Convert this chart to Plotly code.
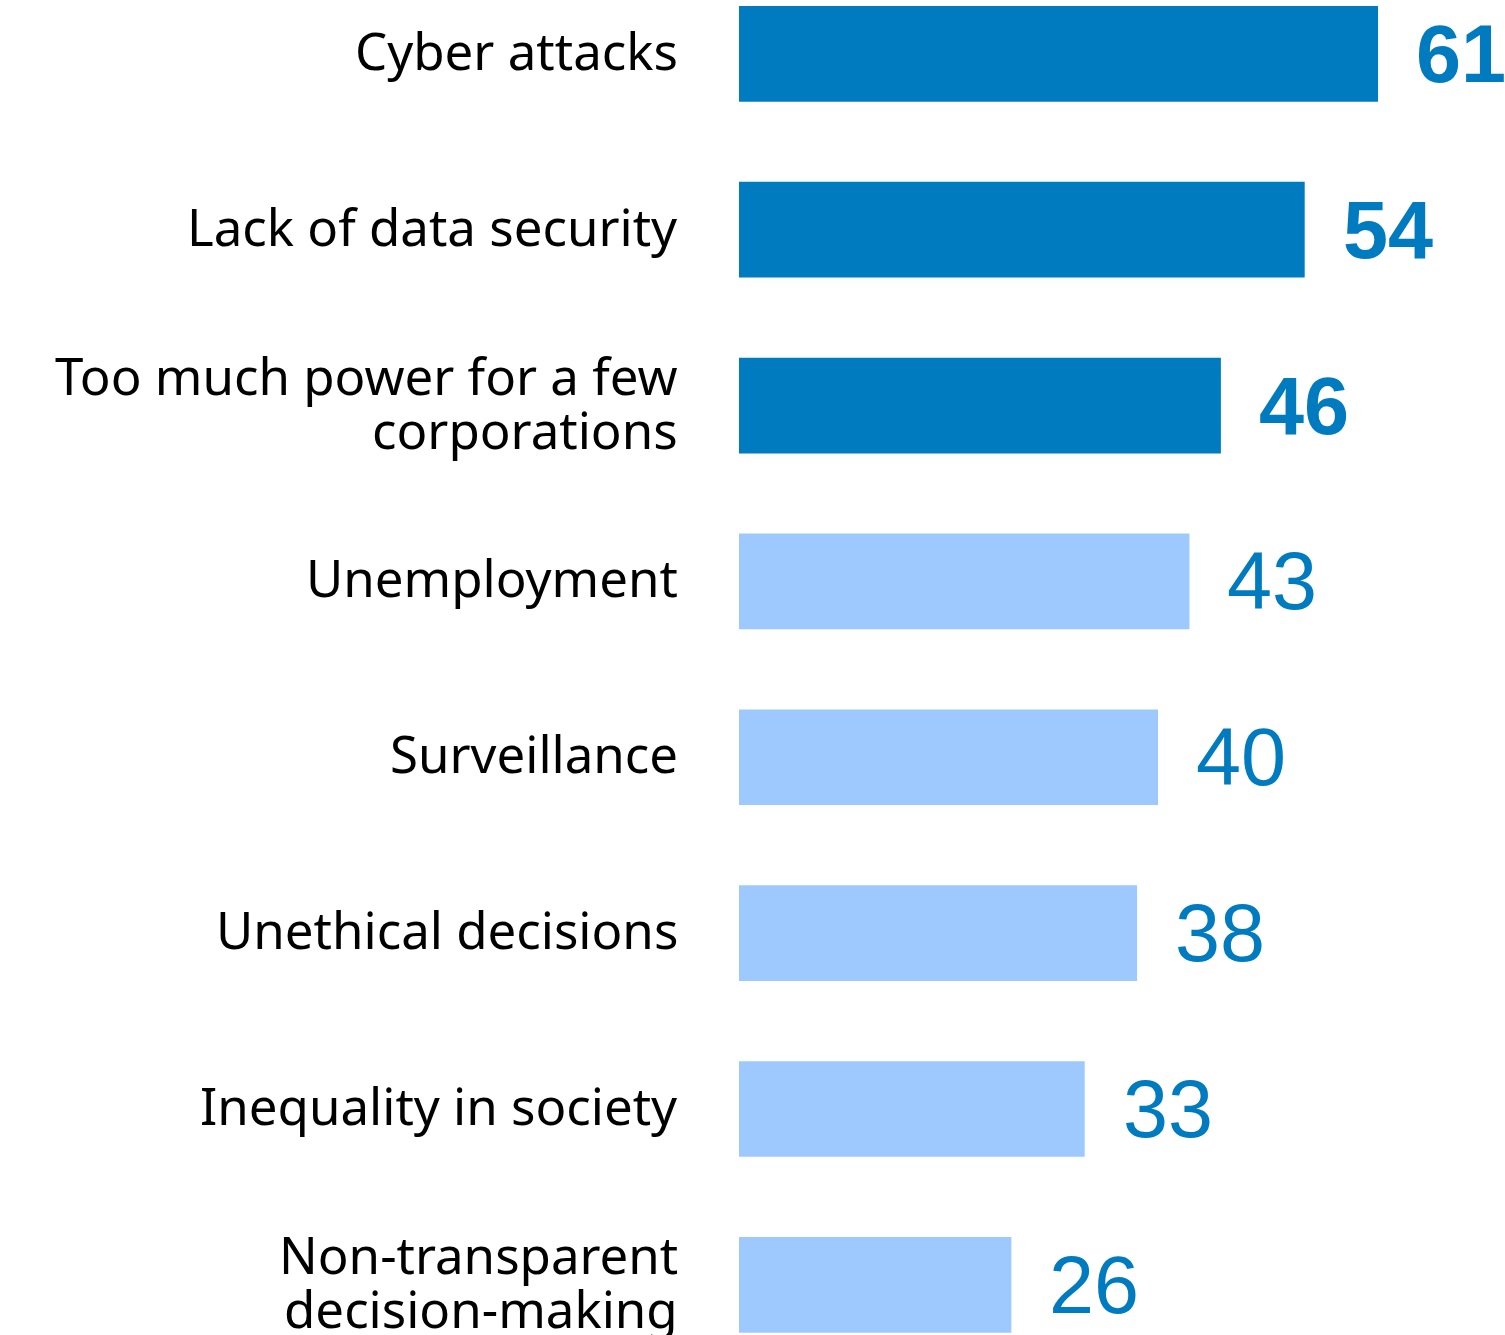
import plotly.graph_objects as go

# Survey data: share of respondents naming each AI risk (%)
categories = [
    "Cyber attacks",
    "Lack of data security",
    "Too much power for a few<br>corporations",
    "Unemployment",
    "Surveillance",
    "Unethical decisions",
    "Inequality in society",
    "Non-transparent<br>decision-making",
]
values = [61, 54, 46, 43, 40, 38, 33, 26]
highlighted = [True, True, True, False, False, False, False, False]

DARK_BLUE = "#007BC0"
LIGHT_BLUE = "#9DC9FF"
LABEL_FONT = "Noto Sans"
VALUE_FONT = "Liberation Sans"

positions = list(range(len(categories)))
bar_colors = [DARK_BLUE if h else LIGHT_BLUE for h in highlighted]

fig = go.Figure(
    go.Bar(
        x=values,
        y=positions,
        orientation="h",
        marker=dict(color=bar_colors, line=dict(width=0)),
        width=0.544,
        hoverinfo="skip",
    )
)

annotations = []
for pos, cat, val, hl in zip(positions, categories, values, highlighted):
    lines = cat.split("<br>")
    n = len(lines)
    for i, line in enumerate(lines):
        annotations.append(
            dict(
                x=0, y=pos, xref="x", yref="y",
                text=line, showarrow=False,
                xanchor="right", yanchor="middle",
                xshift=-59,
                yshift=(n - 1) * 27 - i * 54 + 4,
                font=dict(family=LABEL_FONT, size=51, color="#000000"),
            )
        )
    annotations.append(
        dict(
            x=val, y=pos, xref="x", yref="y",
            text=f"<b>{val}</b>" if hl else str(val),
            showarrow=False,
            xanchor="left", yanchor="middle",
            xshift=36,
            font=dict(family=VALUE_FONT, size=81, color=DARK_BLUE),
        )
    )

fig.update_layout(
    width=1505,
    height=1335,
    margin=dict(l=739, r=0, t=0, b=0),
    paper_bgcolor="white",
    plot_bgcolor="white",
    showlegend=False,
    annotations=annotations,
    xaxis=dict(range=[0, 73.12], visible=False, fixedrange=True),
    yaxis=dict(range=[7.285, -0.306], visible=False, fixedrange=True),
)

fig.write_html("out.html")
